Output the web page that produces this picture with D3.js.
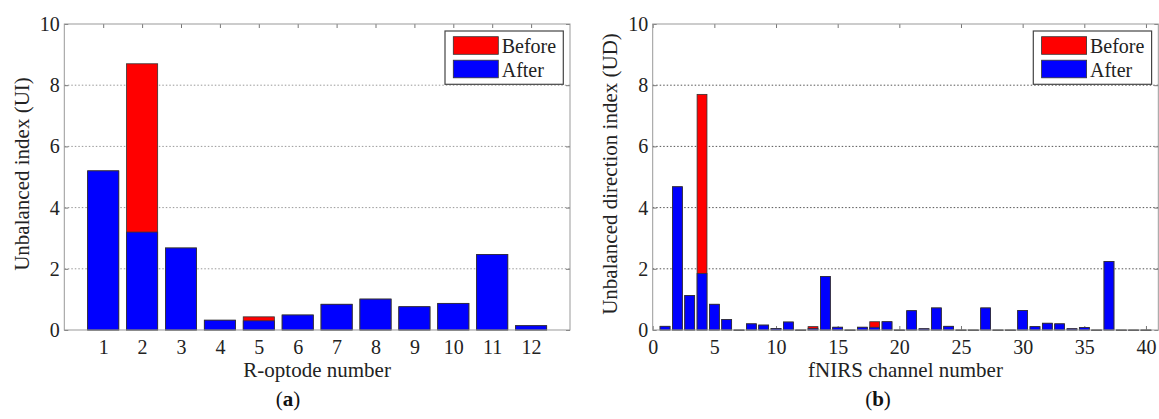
<!DOCTYPE html>
<html>
<head>
<meta charset="utf-8">
<script src="https://cdn.jsdelivr.net/npm/d3@7"></script>
<style>
  body { margin: 0; background: #fff; }
  svg { display: block; font-family: "Liberation Serif", "Times New Roman", serif; }
</style>
</head>
<body>
<svg width="1159" height="419"></svg>
<script>
// panel (a): R-optodes
const optodes = [1, 2, 3, 4, 5, 6, 7, 8, 9, 10, 11, 12];
const optodeAfter  = [5.2, 3.2, 2.68, 0.32, 0.30, 0.49, 0.84, 1.01, 0.76, 0.87, 2.47, 0.14];
const optodeBefore = [5.2, 8.7, 2.68, 0.32, 0.43, 0.49, 0.84, 1.01, 0.76, 0.87, 2.47, 0.14];
const optodeTicks = [1, 2, 3, 4, 5, 6, 7, 8, 9, 10, 11, 12];

// panel (b): fNIRS channels
const channels = [1, 2, 3, 4, 5, 6, 7, 8, 9, 10, 11, 12, 13, 14, 15, 16, 17, 18, 19, 20,
                  21, 22, 23, 24, 25, 26, 27, 28, 29, 30, 31, 32, 33, 34, 35, 36, 37, 38, 39, 40];
const channelAfter = [0.12, 4.68, 1.13, 1.85, 0.84, 0.34, 0, 0.20, 0.16, 0.05,
                      0.26, 0, 0.05, 1.75, 0.09, 0, 0.09, 0.09, 0.27, 0,
                      0.63, 0.04, 0.72, 0.12, 0, 0, 0.72, 0, 0, 0.64,
                      0.11, 0.22, 0.20, 0.04, 0.08, 0, 2.24, 0, 0, 0];
const channelBefore = [0.12, 4.68, 1.13, 7.70, 0.84, 0.34, 0, 0.20, 0.16, 0.05,
                       0.26, 0, 0.11, 1.75, 0.09, 0, 0.09, 0.27, 0.27, 0,
                       0.63, 0.04, 0.72, 0.12, 0, 0, 0.72, 0, 0, 0.64,
                       0.11, 0.22, 0.20, 0.04, 0.08, 0, 2.24, 0, 0, 0];
const channelTicks = [0, 5, 10, 15, 20, 25, 30, 35, 40];

const yTicks = [0, 2, 4, 6, 8, 10];
const gridTicks = [2, 4, 6, 8];
const legendLabels = ["Before", "After"];
const legendColors = ["#ff0000", "#0000ff"];

const svg = d3.select("svg");
const plotTop = 24, plotBottom = 330;
const y = d3.scaleLinear().domain([0, 10]).range([plotBottom, plotTop]);

function drawPanel(p) {
  const x = d3.scaleLinear().domain(p.domain).range([p.left, p.right]);
  const g = svg.append("g");
  const bw = (x(1) - x(0)) * 0.8;

  // grid
  g.selectAll("line.grid").data(gridTicks).enter().append("line")
    .attr("x1", p.left).attr("x2", p.right)
    .attr("y1", d => y(d)).attr("y2", d => y(d))
    .attr("stroke", p.gridColor).attr("stroke-width", 1)
    .attr("stroke-dasharray", "1.5,2");

  // ticks (inward) and labels
  const ax = g.append("g").attr("transform", `translate(0,${plotBottom})`)
    .call(d3.axisBottom(x).tickValues(p.ticks).tickSizeInner(-4).tickSizeOuter(0).tickPadding(10));
  ax.selectAll("text").attr("font-size", 20).attr("fill", "#222").attr("font-family", "Liberation Serif");
  const axTop = g.append("g").attr("transform", `translate(0,${plotTop})`)
    .call(d3.axisTop(x).tickValues(p.ticks).tickSizeInner(-4).tickSizeOuter(0).tickFormat(""));
  const ay = g.append("g").attr("transform", `translate(${p.left},0)`)
    .call(d3.axisLeft(y).tickValues(yTicks).tickSizeInner(-4).tickSizeOuter(0).tickPadding(4.5));
  ay.selectAll("text").attr("font-size", 20).attr("fill", "#222").attr("font-family", "Liberation Serif");
  const ayR = g.append("g").attr("transform", `translate(${p.right},0)`)
    .call(d3.axisRight(y).tickValues(yTicks).tickSizeInner(-4).tickSizeOuter(0).tickFormat(""));
  [ax, axTop, ay, ayR].forEach(a => {
    a.select(".domain").remove();
    a.selectAll("line").attr("stroke", "#777");
  });

  // bars: "Before" behind, "After" on top
  const series = [p.before, p.after];
  series.forEach((vals, si) => {
    g.selectAll(null).data(p.cats).enter().append("rect")
      .attr("x", d => x(d) - bw / 2)
      .attr("y", (d, i) => y(vals[i]))
      .attr("width", bw)
      .attr("height", (d, i) => Math.max(plotBottom - y(vals[i]), 0.6))
      .attr("fill", legendColors[si])
      .attr("stroke", "#333")
      .attr("stroke-width", 0.8);
  });

  // frame
  g.append("rect")
    .attr("x", p.left).attr("y", plotTop)
    .attr("width", p.right - p.left).attr("height", plotBottom - plotTop)
    .attr("fill", "none").attr("stroke", "#999").attr("stroke-width", 1);

  // legend
  const lx = p.right - 6.7 - 118.3, ly = 31;
  const lg = g.append("g").attr("transform", `translate(${lx},${ly})`);
  lg.append("rect").attr("width", 118.3).attr("height", 53.3)
    .attr("fill", "#fff").attr("stroke", "#444").attr("stroke-width", 1.2);
  legendLabels.forEach((lab, i) => {
    lg.append("rect").attr("x", 8.3).attr("y", 5.7 + i * 23.5)
      .attr("width", 45).attr("height", 17.6)
      .attr("fill", legendColors[i]).attr("stroke", "#333").attr("stroke-width", 0.8);
    lg.append("text").attr("x", 56.7).attr("y", 21.7 + i * 24.6)
      .attr("font-size", 20).attr("fill", "#222").text(lab);
  });

  // titles
  svg.append("text")
    .attr("x", (p.left + p.right) / 2).attr("y", 376.5)
    .attr("text-anchor", "middle").attr("font-size", 21).attr("fill", "#222")
    .text(p.xTitle);
  svg.append("text")
    .attr("transform", `translate(${p.yTitleX},${174}) rotate(-90)`)
    .attr("text-anchor", "middle").attr("font-size", 21).attr("fill", "#222")
    .text(p.yTitle);
  const cap = svg.append("text")
    .attr("x", p.capX).attr("y", 406)
    .attr("text-anchor", "middle").attr("font-size", 21).attr("fill", "#111");
  cap.append("tspan").text("(");
  cap.append("tspan").attr("font-weight", "bold").text(p.cap);
  cap.append("tspan").text(")");
}

drawPanel({
  left: 64.3, right: 570, domain: [0, 13],
  cats: optodes, after: optodeAfter, before: optodeBefore, ticks: optodeTicks,
  gridColor: "#999",
  xTitle: "R-optode number", yTitle: "Unbalanced index (UI)", yTitleX: 28.5,
  cap: "a", capX: 288
});

drawPanel({
  left: 652.7, right: 1158.3, domain: [0, 41],
  cats: channels, after: channelAfter, before: channelBefore, ticks: channelTicks,
  gridColor: "#555",
  xTitle: "fNIRS channel number", yTitle: "Unbalanced direction index (UD)", yTitleX: 617,
  cap: "b", capX: 878
});
</script>
</body>
</html>
